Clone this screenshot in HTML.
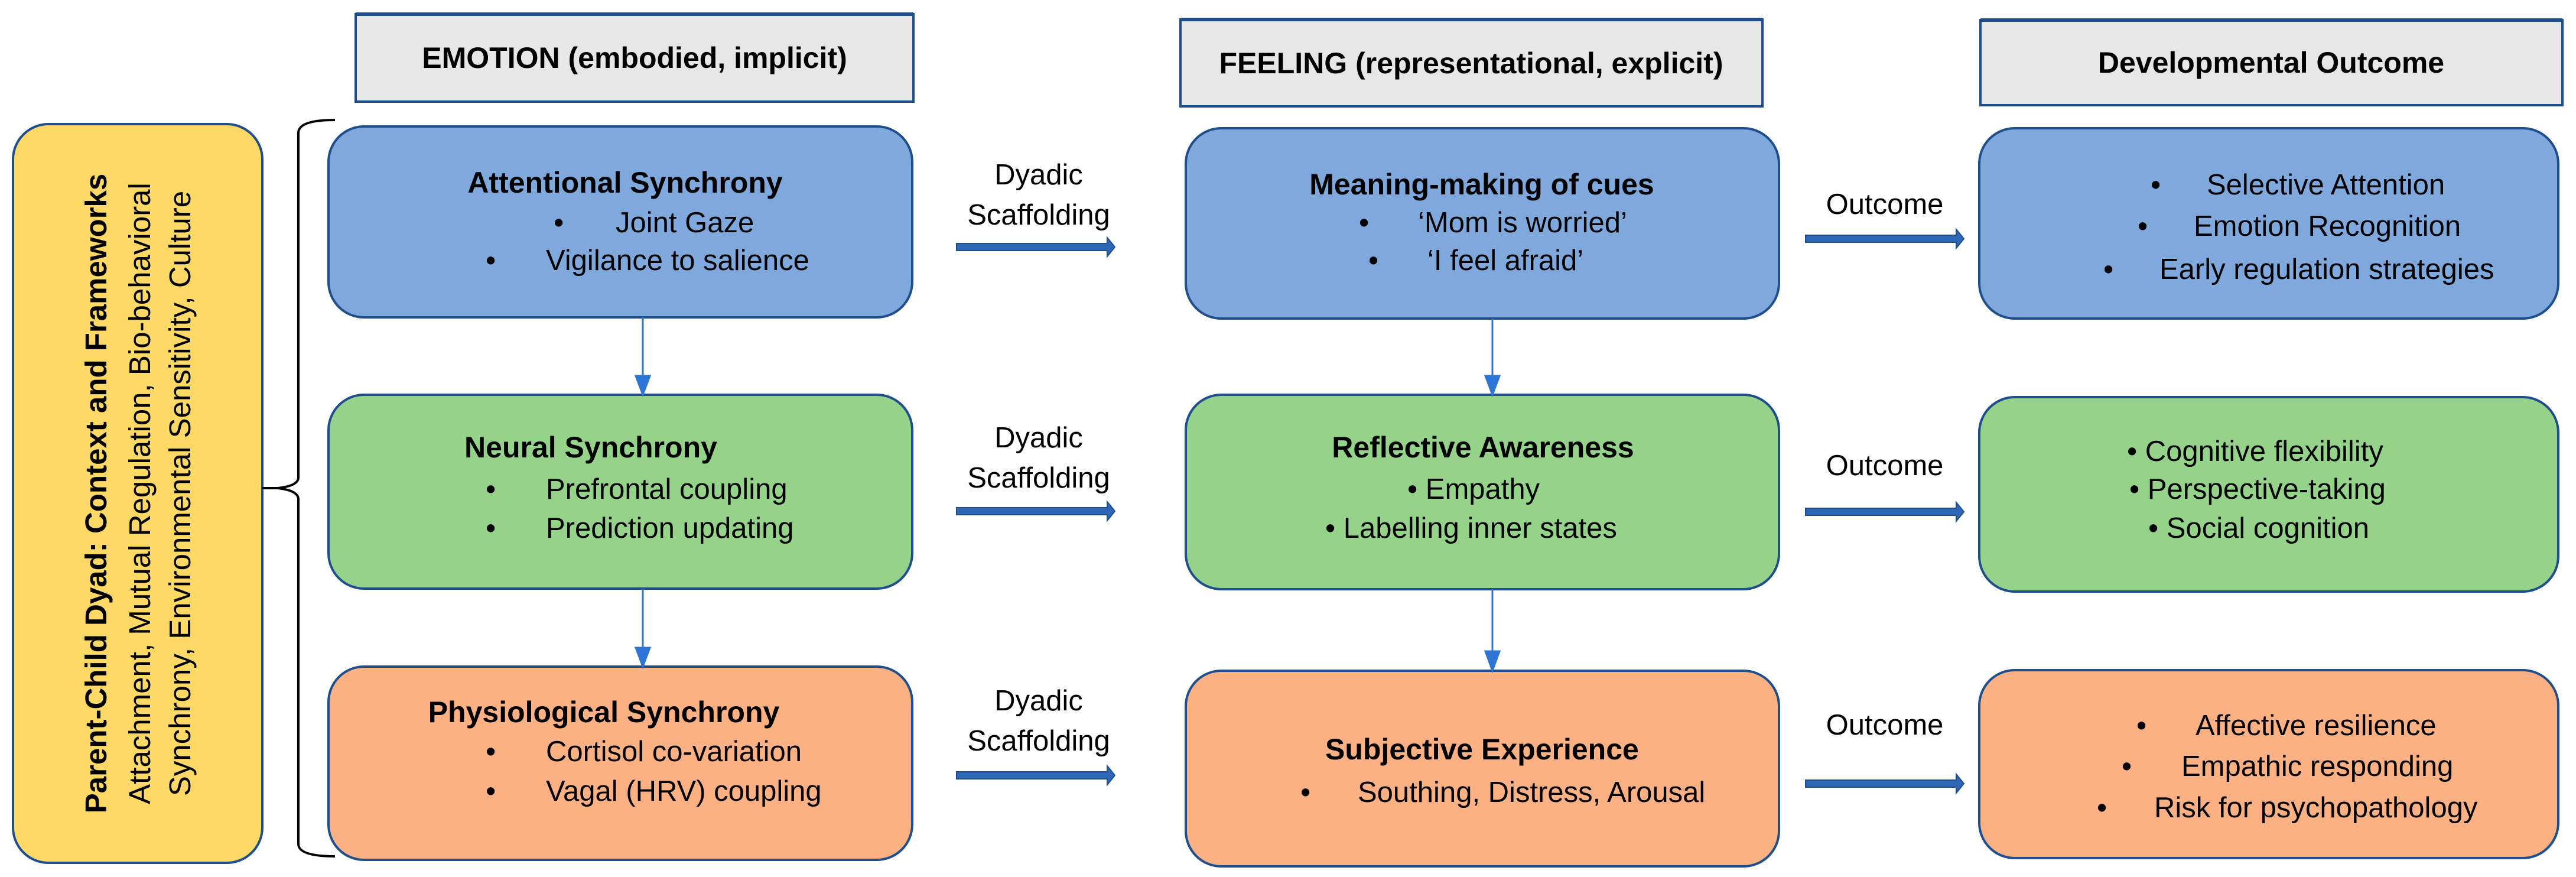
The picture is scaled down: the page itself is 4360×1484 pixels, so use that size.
<!DOCTYPE html>
<html><head><meta charset="utf-8"><style>
html,body{margin:0;padding:0;background:#fff}
svg{display:block}
text{font-family:"Liberation Sans",sans-serif;fill:#000}
.b{font-weight:bold}
</style></head><body>
<svg width="4360" height="1484" viewBox="0 0 4360 1484" xmlns="http://www.w3.org/2000/svg">
<defs>
<g id="harr"><path d="M0,-6 H255 V-16 L268,0 L255,16 V6 H0 Z" fill="#2E67B5" stroke="#1F4E8C" stroke-width="2"/></g>
</defs>
<!-- headers -->
<rect x="602" y="24" width="944" height="148" fill="#E8E7E7" stroke="#1F4E8C" stroke-width="4"/>
<rect x="602" y="21" width="944" height="6" fill="#1F4E8C"/>
<rect x="1998" y="33" width="985" height="147" fill="#E8E7E7" stroke="#1F4E8C" stroke-width="4"/>
<rect x="1998" y="30" width="985" height="6" fill="#1F4E8C"/>
<rect x="3352" y="34" width="985" height="144" fill="#E8E7E7" stroke="#1F4E8C" stroke-width="4"/>
<rect x="3352" y="31" width="985" height="6" fill="#1F4E8C"/>
<text class="b" x="1074" y="115" font-size="50" text-anchor="middle">EMOTION (embodied, implicit)</text>
<text class="b" x="2490" y="124" font-size="50" text-anchor="middle">FEELING (representational, explicit)</text>
<text class="b" x="3844" y="123" font-size="50" text-anchor="middle">Developmental Outcome</text>

<!-- yellow -->
<rect x="22" y="210" width="422" height="1250" rx="60" fill="#FFD966" stroke="#1F4E8C" stroke-width="4"/>
<g transform="translate(0,835) rotate(-90)">
<text class="b" x="0" y="180" font-size="51" text-anchor="middle">Parent-Child Dyad: Context and Frameworks</text>
<text x="0" y="254" font-size="51" text-anchor="middle">Attachment, Mutual Regulation, Bio-behavioral</text>
<text x="0" y="322" font-size="51" text-anchor="middle">Synchrony,  Environmental Sensitivity, Culture</text>
</g>
<!-- bracket -->
<path d="M567,203 Q505,203 505,225 V808 Q505,822 470,826 H444 M470,826 Q505,830 505,845 V1428 Q505,1449 567,1449" fill="none" stroke="#000" stroke-width="4"/>

<!-- col1 boxes -->
<rect x="556" y="214" width="988" height="323" rx="60" fill="#7FA9DD" stroke="#1F4E8C" stroke-width="4"/>
<rect x="556" y="668" width="988" height="328" rx="60" fill="#95D38A" stroke="#1F4E8C" stroke-width="4"/>
<rect x="556" y="1128" width="988" height="327" rx="60" fill="#FBB183" stroke="#1F4E8C" stroke-width="4"/>
<!-- col2 -->
<rect x="2007" y="217" width="1004" height="322" rx="60" fill="#7FA9DD" stroke="#1F4E8C" stroke-width="4"/>
<rect x="2007" y="668" width="1004" height="329" rx="60" fill="#95D38A" stroke="#1F4E8C" stroke-width="4"/>
<rect x="2007" y="1135" width="1004" height="331" rx="60" fill="#FBB183" stroke="#1F4E8C" stroke-width="4"/>
<!-- col3 -->
<rect x="3350" y="217" width="980" height="322" rx="60" fill="#7FA9DD" stroke="#1F4E8C" stroke-width="4"/>
<rect x="3350" y="672" width="980" height="329" rx="60" fill="#95D38A" stroke="#1F4E8C" stroke-width="4"/>
<rect x="3350" y="1134" width="980" height="318" rx="60" fill="#FBB183" stroke="#1F4E8C" stroke-width="4"/>

<!-- vertical connectors -->
<g stroke="#2E75D6" stroke-width="3" fill="#2E75D6">
<line x1="1088" y1="537" x2="1088" y2="640"/><path d="M1076,636 L1100,636 L1088,668 Z"/>
<line x1="1088" y1="996" x2="1088" y2="1100"/><path d="M1076,1096 L1100,1096 L1088,1128 Z"/>
<line x1="2526" y1="539" x2="2526" y2="640"/><path d="M2514,636 L2538,636 L2526,668 Z"/>
<line x1="2526" y1="997" x2="2526" y2="1106"/><path d="M2514,1102 L2538,1102 L2526,1135 Z"/>
</g>

<!-- horizontal arrows -->
<use href="#harr" transform="translate(1619,418)"/>
<use href="#harr" transform="translate(1619,865)"/>
<use href="#harr" transform="translate(1619,1312)"/>
<use href="#harr" transform="translate(3056,866)" />
<use href="#harr" transform="translate(3056,404)"/>
<use href="#harr" transform="translate(3056,1326)"/>

<g font-size="49" text-anchor="middle">
<text x="1758" y="312">Dyadic</text><text x="1758" y="380">Scaffolding</text>
<text x="1758" y="757">Dyadic</text><text x="1758" y="825">Scaffolding</text>
<text x="1758" y="1202">Dyadic</text><text x="1758" y="1270">Scaffolding</text>
<text x="3190" y="362">Outcome</text>
<text x="3190" y="804">Outcome</text>
<text x="3190" y="1243">Outcome</text>
</g>

<!-- col1 text -->
<g font-size="49">
<text class="b" x="1058" y="326" text-anchor="middle" font-size="50">Attentional Synchrony</text>
<text x="937" y="393">•</text><text x="1042" y="393">Joint Gaze</text>
<text x="822" y="457">•</text><text x="924" y="457">Vigilance to salience</text>

<text class="b" x="1000" y="774" text-anchor="middle" font-size="50">Neural Synchrony</text>
<text x="822" y="844">•</text><text x="924" y="844">Prefrontal coupling</text>
<text x="822" y="910">•</text><text x="924" y="910">Prediction updating</text>

<text class="b" x="1022" y="1222" text-anchor="middle" font-size="50">Physiological Synchrony</text>
<text x="822" y="1288">•</text><text x="924" y="1288">Cortisol co-variation</text>
<text x="822" y="1355">•</text><text x="924" y="1355">Vagal (HRV) coupling</text>
</g>
<!-- col2 text -->
<g font-size="49">
<text class="b" x="2508" y="329" text-anchor="middle" font-size="50">Meaning-making of cues</text>
<text x="2300" y="393">•</text><text x="2400" y="393">‘Mom is worried’</text>
<text x="2316" y="457">•</text><text x="2416" y="457">‘I feel afraid’</text>

<text class="b" x="2510" y="774" text-anchor="middle" font-size="50">Reflective Awareness</text>
<text x="2382" y="844">• Empathy</text>
<text x="2243" y="910">• Labelling inner states</text>

<text class="b" x="2243" y="1285" font-size="50">Subjective Experience</text>
<text x="2201" y="1357">•</text><text x="2298" y="1357">Southing, Distress, Arousal</text>
</g>
<!-- col3 text -->
<g font-size="49">
<text x="3640" y="329">•</text><text x="3735" y="329">Selective Attention</text>
<text x="3618" y="399">•</text><text x="3713" y="399">Emotion Recognition</text>
<text x="3560" y="472">•</text><text x="3655" y="472">Early regulation strategies</text>

<text x="3600" y="780">• Cognitive flexibility</text>
<text x="3604" y="844">• Perspective-taking</text>
<text x="3636" y="910">• Social cognition</text>

<text x="3616" y="1244">•</text><text x="3716" y="1244">Affective resilience</text>
<text x="3591" y="1313">•</text><text x="3692" y="1313">Empathic responding</text>
<text x="3549" y="1383">•</text><text x="3646" y="1383">Risk for psychopathology</text>
</g>
</svg>
</body></html>
